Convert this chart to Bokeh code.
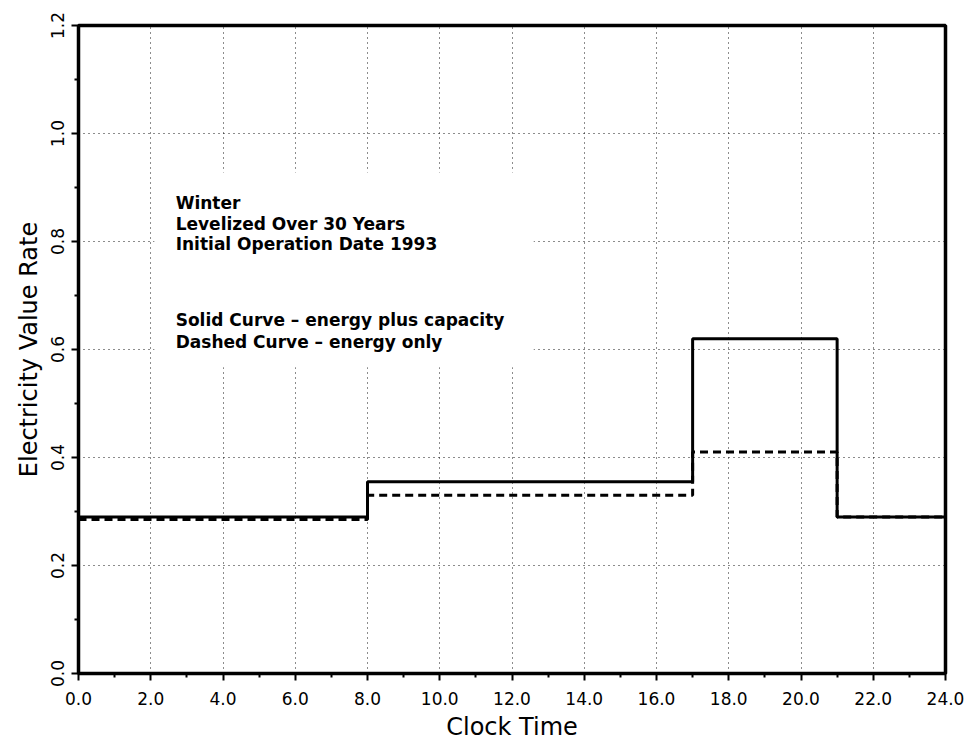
from bokeh.plotting import figure
from bokeh.models import (Range1d, FixedTicker, PrintfTickFormatter,
                          Label, BoxAnnotation)
from bokeh.embed import file_html
from bokeh.resources import INLINE

# ---- data ----
hours = [0, 8, 17, 21, 24]
solid_rate = [0.29, 0.355, 0.62, 0.29, 0.29]     # energy plus capacity
dashed_rate = [0.285, 0.33, 0.41, 0.29, 0.29]    # energy only
x_ticks = [0, 2, 4, 6, 8, 10, 12, 14, 16, 18, 20, 22, 24]
x_minor = [1, 3, 5, 7, 9, 11, 13, 15, 17, 19, 21, 23]
y_ticks = [0.0, 0.2, 0.4, 0.6, 0.8, 1.0, 1.2]
y_minor = [0.1, 0.3, 0.5, 0.7, 0.9, 1.1]
notes = ["Winter", "Levelized Over 30 Years", "Initial Operation Date 1993",
         "Solid Curve \u2013 energy plus capacity", "Dashed Curve \u2013 energy only"]
note_y = [0.872, 0.833, 0.795, 0.655, 0.614]

FONT = "DejaVu Sans"

p = figure(width=975, height=746, output_backend="svg", toolbar_location=None,
           x_range=Range1d(0, 24), y_range=Range1d(0, 1.2),
           min_border_left=78, min_border_right=30, min_border_top=25,
           min_border_bottom=73)
p.background_fill_color = "white"
p.border_fill_color = "white"
p.outline_line_color = "black"
p.outline_line_width = 3.5
p.outline_line_alpha = 1

p.xaxis.ticker = FixedTicker(ticks=x_ticks, minor_ticks=x_minor)
p.yaxis.ticker = FixedTicker(ticks=y_ticks, minor_ticks=y_minor)
p.xaxis.formatter = PrintfTickFormatter(format="%.1f")
p.yaxis.formatter = PrintfTickFormatter(format="%.1f")

for ax in (p.xaxis, p.yaxis):
    ax.axis_line_color = "black"
    ax.axis_line_width = 3
    ax.major_tick_line_color = "black"
    ax.major_tick_line_width = 2
    ax.minor_tick_line_color = "black"
    ax.minor_tick_line_width = 2
    ax.major_tick_out = 7
    ax.major_tick_in = 0
    ax.minor_tick_out = 4
    ax.minor_tick_in = 0
    ax.major_label_text_font = FONT
    ax.major_label_text_font_size = "17px"
    ax.major_label_text_font_style = "normal"
    ax.major_label_text_color = "black"
    ax.axis_label_text_font = FONT
    ax.axis_label_text_font_size = "24px"
    ax.axis_label_text_font_style = "normal"
    ax.axis_label_text_color = "black"

p.xaxis.axis_label = "Clock Time"
p.yaxis.axis_label = "Electricity Value Rate"
p.xaxis.major_label_standoff = 11
p.xaxis.axis_label_standoff = 5
p.yaxis.major_label_orientation = "vertical"
p.yaxis.major_label_standoff = 8
p.yaxis.axis_label_standoff = 5

for g in (p.xgrid, p.ygrid):
    g.grid_line_color = "black"
    g.grid_line_width = 1
    g.grid_line_dash = "1 4"
    g.grid_line_alpha = 0.9

# blank area behind the notes (grid lines are interrupted there)
p.add_layout(BoxAnnotation(left=2.1, right=12.6, bottom=0.567, top=0.928,
                           fill_color="white", fill_alpha=1, line_color=None))

p.step(hours, dashed_rate, mode="after", line_color="black", line_width=3,
       line_dash="8 5")
p.step(hours, solid_rate, mode="after", line_color="black", line_width=3)

for t, yy in zip(notes, note_y):
    p.add_layout(Label(x=2.69, y=yy, text=t, text_font=FONT,
                       text_font_size="17px", text_font_style="bold",
                       text_color="black", text_baseline="alphabetic"))

open("out.html", "w").write(file_html(p, INLINE))
